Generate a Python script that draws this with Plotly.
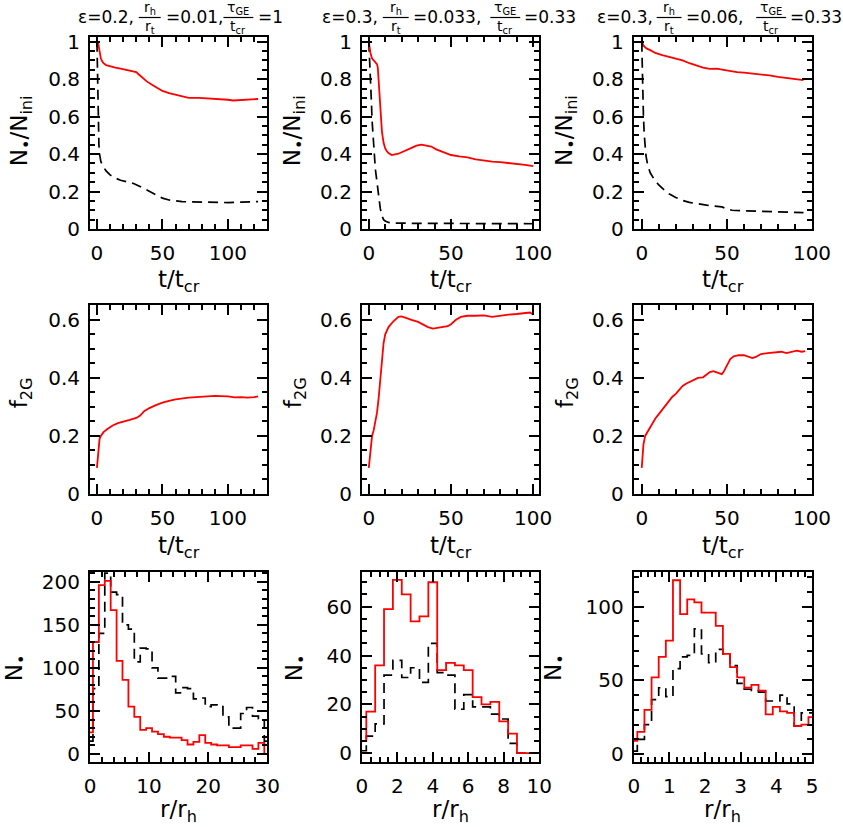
import plotly.graph_objects as go
from plotly.subplots import make_subplots

# ---------------- data ----------------
# row 1 : N*/N_ini vs t/t_cr   (red = solid, black = dashed)
t_red_1 = [0, 1, 2, 3, 4, 5, 7, 10, 14, 18, 23, 28, 30, 32, 35, 38, 42, 46, 50, 55, 60, 65, 70, 78, 86, 94, 100, 104, 108, 112, 116, 120, 123]
n_red_1 = [1.0, 0.99, 0.95, 0.91, 0.895, 0.885, 0.875, 0.868, 0.862, 0.856, 0.85, 0.843, 0.838, 0.825, 0.805, 0.788, 0.77, 0.755, 0.737, 0.725, 0.716, 0.708, 0.70, 0.70, 0.697, 0.695, 0.69, 0.686, 0.688, 0.69, 0.689, 0.692, 0.694]
t_blk_1 = [0, 0.3, 0.6, 1, 1.5, 2, 3, 4.8, 7, 10, 14, 18, 23, 28, 32, 36, 40, 45, 50, 55, 60, 65, 70, 80, 90, 100, 110, 123]
n_blk_1 = [1.0, 0.85, 0.7, 0.55, 0.45, 0.4, 0.36, 0.333, 0.31, 0.289, 0.272, 0.26, 0.25, 0.243, 0.23, 0.215, 0.2, 0.18, 0.165, 0.155, 0.149, 0.146, 0.145, 0.143, 0.142, 0.141, 0.143, 0.146]

t_red_2 = [0, 1, 2, 3, 4, 5, 5.5, 6, 6.5, 7, 7.5, 8, 9, 10, 11, 12, 14, 16, 18, 20, 23, 26, 29, 32, 35, 38, 41, 45, 50, 55, 60, 65, 70, 75, 80, 85, 90, 95, 100]
n_red_2 = [1.0, 0.94, 0.91, 0.9, 0.89, 0.88, 0.86, 0.8, 0.72, 0.65, 0.58, 0.52, 0.46, 0.43, 0.415, 0.405, 0.395, 0.397, 0.402, 0.41, 0.42, 0.433, 0.445, 0.45, 0.445, 0.44, 0.425, 0.41, 0.395, 0.388, 0.382, 0.372, 0.365, 0.36, 0.357, 0.353, 0.348, 0.342, 0.336]
t_blk_2 = [0, 0.5, 1, 1.5, 2, 3, 4, 5, 6, 7, 8, 9, 10, 12, 15, 20, 30, 40, 50, 60, 70, 80, 90, 100]
n_blk_2 = [1.0, 0.92, 0.82, 0.7, 0.58, 0.42, 0.32, 0.25, 0.17, 0.11, 0.07, 0.05, 0.042, 0.035, 0.032, 0.03, 0.03, 0.03, 0.03, 0.029, 0.029, 0.028, 0.028, 0.028]

t_red_3 = [0, 0.5, 1, 2, 3, 5, 8, 12, 16, 20, 24, 28, 32, 36, 40, 44, 48, 52, 56, 60, 65, 70, 75, 80, 85, 90, 95]
n_red_3 = [1.0, 0.99, 0.98, 0.97, 0.963, 0.955, 0.94, 0.928, 0.918, 0.91, 0.9, 0.885, 0.872, 0.862, 0.855, 0.856, 0.85, 0.842, 0.838, 0.835, 0.83, 0.828, 0.82, 0.812, 0.805, 0.8, 0.795]
t_blk_3 = [0, 0.3, 0.7, 1, 1.5, 2, 2.5, 3.5, 5, 7.5, 10, 13, 16, 20, 24, 28, 33, 38, 43, 47, 50, 53, 58, 62, 70, 78, 86, 95]
n_blk_3 = [1.0, 0.85, 0.7, 0.6, 0.5, 0.43, 0.39, 0.34, 0.3, 0.262, 0.235, 0.21, 0.188, 0.168, 0.152, 0.142, 0.133, 0.127, 0.122, 0.118, 0.108, 0.1, 0.098, 0.097, 0.093, 0.09, 0.088, 0.087]

# row 2 : f_2G vs t/t_cr
t_f_1 = [0, 1, 2, 3, 5, 8, 12, 16, 20, 25, 30, 33, 36, 40, 45, 50, 55, 60, 70, 80, 90, 100, 105, 110, 115, 120, 123]
f_2g_1 = [0.09, 0.14, 0.19, 0.2, 0.213, 0.224, 0.236, 0.244, 0.25, 0.255, 0.262, 0.27, 0.285, 0.296, 0.306, 0.315, 0.321, 0.326, 0.332, 0.336, 0.338, 0.336, 0.333, 0.334, 0.332, 0.334, 0.336]
t_f_2 = [0, 1, 2, 3, 4, 5, 6, 7, 8, 9, 10, 12, 15, 18, 20, 23, 26, 30, 33, 36, 39, 42, 45, 48, 50, 53, 56, 60, 65, 70, 75, 80, 85, 90, 95, 98, 100]
f_2g_2 = [0.09, 0.15, 0.2, 0.22, 0.25, 0.28, 0.33, 0.4, 0.47, 0.52, 0.55, 0.575, 0.595, 0.61, 0.612, 0.605, 0.6, 0.593, 0.585, 0.575, 0.57, 0.572, 0.575, 0.578, 0.585, 0.6, 0.61, 0.614, 0.614, 0.615, 0.61, 0.615, 0.618, 0.62, 0.622, 0.625, 0.618]
t_f_3 = [0, 1, 2, 4, 6, 8, 10, 12, 14, 16, 18, 20, 22, 24, 26, 28, 30, 33, 36, 38, 40, 42, 44, 46, 47, 48, 50, 52, 54, 57, 60, 62, 65, 67, 70, 74, 78, 82, 85, 88, 91, 94, 96]
f_2g_3 = [0.09, 0.17, 0.2, 0.22, 0.245, 0.26, 0.275, 0.29, 0.305, 0.32, 0.335, 0.345, 0.36, 0.372, 0.38, 0.385, 0.39, 0.4, 0.402, 0.41, 0.42, 0.423, 0.42, 0.415, 0.413, 0.42, 0.445, 0.465, 0.474, 0.478, 0.478, 0.474, 0.468, 0.472, 0.482, 0.485, 0.488, 0.49, 0.485, 0.49, 0.494, 0.49, 0.492]

# row 3 : N* histograms vs r/r_h (bin centres)
r_bins_1 = [0, 1, 2, 3, 4, 5, 6, 7, 8, 9, 10, 11, 12, 13, 14, 15, 16, 17, 18, 19, 20, 21, 22, 23, 24, 25, 26, 27, 28, 29, 30]
h_red_1 = [25, 130, 196, 201, 167, 108, 86, 55, 43, 28, 30, 26, 23, 20, 19, 19, 16, 11, 14, 22, 13, 11, 10, 10, 8, 8, 10, 10, 6, 13, 0]
h_blk_1 = [15, 76, 140, 210, 188, 185, 150, 145, 107, 123, 122, 100, 88, 88, 90, 71, 77, 76, 64, 65, 55, 57, 55, 43, 30, 30, 47, 54, 44, 41, 15]

r_bins_2 = [0, 0.5, 1, 1.5, 2, 2.5, 3, 3.5, 4, 4.5, 5, 5.5, 6, 6.5, 7, 7.5, 8, 8.5, 9, 9.5, 10]
h_red_2 = [5, 17, 36, 59, 71, 65, 54, 56, 70, 34, 37, 36, 34, 23, 20, 21, 13, 8, 0, 0, 0]
h_blk_2 = [1, 7, 12, 32, 38, 31, 35, 29, 45, 33, 32, 18, 24, 19, 19, 16, 14, 4, 0, 0, 0]

r_bins_3 = [0, 0.2, 0.4, 0.6, 0.8, 1.0, 1.2, 1.4, 1.6, 1.8, 2.0, 2.2, 2.4, 2.6, 2.8, 3.0, 3.2, 3.4, 3.6, 3.8, 4.0, 4.2, 4.4, 4.6, 4.8, 5.0]
h_red_3 = [9, 15, 30, 52, 66, 77, 118, 95, 105, 103, 96, 96, 87, 68, 59, 52, 45, 47, 43, 27, 32, 29, 28, 19, 20, 25]
h_blk_3 = [2, 10, 20, 37, 45, 39, 58, 66, 67, 85, 68, 62, 71, 68, 60, 48, 44, 43, 42, 36, 36, 40, 34, 19, 28, 28]

# column titles : (left text, frac1 top, frac1 bottom, middle text, frac2 top, frac2 bottom, right text)
col_titles = [
    ["\u03b5=0.2,", "r<sub>h</sub>", "r<sub>t</sub>", "=0.01,", "\u03c4<sub>GE</sub>", "t<sub>cr</sub>", "=1"],
    ["\u03b5=0.3,", "r<sub>h</sub>", "r<sub>t</sub>", "=0.033,", "\u03c4<sub>GE</sub>", "t<sub>cr</sub>", "=0.33"],
    ["\u03b5=0.3,", "r<sub>h</sub>", "r<sub>t</sub>", "=0.06,", "\u03c4<sub>GE</sub>", "t<sub>cr</sub>", "=0.33"],
]

# ---------------- layout geometry (pixels) ----------------
W, H = 843, 827
L, R, T, B = 90, 815, 37, 762
col_px = [(90, 268), (363, 541), (636, 815)]
row_px = [(37, 229), (305, 494), (572, 762)]


def fx(px):
    return (px - L) / (R - L)


def fy(py):
    return (B - py) / (B - T)


RED = "#ff0000"
FONT = "DejaVu Sans"
DASH = "10px,6px"

fig = make_subplots(rows=3, cols=3)


def add_pair(row, col, xb, yb, xr, yr, shape="linear"):
    fig.add_trace(go.Scatter(x=xb, y=yb, mode="lines", showlegend=False,
                             line=dict(color="black", width=1.7, dash=DASH, shape=shape)),
                  row=row, col=col)
    fig.add_trace(go.Scatter(x=xr, y=yr, mode="lines", showlegend=False,
                             line=dict(color=RED, width=1.8, shape=shape)),
                  row=row, col=col)


add_pair(1, 1, t_blk_1, n_blk_1, t_red_1, n_red_1)
add_pair(1, 2, t_blk_2, n_blk_2, t_red_2, n_red_2)
add_pair(1, 3, t_blk_3, n_blk_3, t_red_3, n_red_3)

for c, (tt, ff) in enumerate([(t_f_1, f_2g_1), (t_f_2, f_2g_2), (t_f_3, f_2g_3)], start=1):
    fig.add_trace(go.Scatter(x=tt, y=ff, mode="lines", showlegend=False,
                             line=dict(color=RED, width=1.8)), row=2, col=c)

add_pair(3, 1, r_bins_1, h_blk_1, r_bins_1, h_red_1, shape="hvh")
add_pair(3, 2, r_bins_2, h_blk_2, r_bins_2, h_red_2, shape="hvh")
add_pair(3, 3, r_bins_3, h_blk_3, r_bins_3, h_red_3, shape="hvh")

# ---------------- axes ----------------
axis_style = dict(showline=True, linewidth=2, linecolor="black", mirror="ticks",
                  ticks="inside", ticklen=10, tickwidth=1.5, tickcolor="black",
                  showgrid=False, zeroline=False, tick0=0,
                  tickfont=dict(family=FONT, size=20, color="black"))


def minor(d):
    return dict(ticks="inside", ticklen=5, tickwidth=1.5, tickcolor="black",
                showgrid=False, dtick=d, tick0=0)


x_ranges = [
    [[-5.3, 130], [-4.2, 103.6], [-4.7, 100]],
    [[-5.3, 130], [-4.2, 103.6], [-4.7, 100]],
    [[0, 30], [0, 10], [0, 5]],
]
x_ticks = [[(50, 10)] * 3, [(50, 10)] * 3, [(10, 2), (2, 0.5), (1, 0.2)]]
y_ranges = [
    [[0, 1.025]] * 3,
    [[0, 0.651]] * 3,
    [[-9.3, 211.3], [-3.6, 74.2], [-5.4, 123.6]],
]
y_ticks = [[(0.2, 0.05)] * 3, [(0.2, 0.05)] * 3, [(50, 10), (20, 5), (50, 10)]]

for r in range(3):
    for c in range(3):
        fig.update_xaxes(axis_style, domain=[fx(col_px[c][0]), fx(col_px[c][1])],
                         range=x_ranges[r][c], dtick=x_ticks[r][c][0],
                         minor=minor(x_ticks[r][c][1]), ticklabelstandoff=5,
                         row=r + 1, col=c + 1)
        fig.update_yaxes(axis_style, domain=[fy(row_px[r][1]), fy(row_px[r][0])],
                         range=y_ranges[r][c], dtick=y_ticks[r][c][0],
                         minor=minor(y_ticks[r][c][1]), ticklabelstandoff=4,
                         row=r + 1, col=c + 1)

# ---------------- axis titles ----------------
annots = []
title_font = dict(family=FONT, size=23, color="black")
col_centres = [(a + b) / 2 for a, b in col_px]
x_title_text = ["t/t<sub>cr</sub>", "t/t<sub>cr</sub>", "r/r<sub>h</sub>"]
x_title_y = [281, 547, 811]
for r in range(3):
    for c in range(3):
        annots.append(dict(text=x_title_text[r], x=fx(col_centres[c]), y=fy(x_title_y[r]),
                           xref="paper", yref="paper", xanchor="center", yanchor="middle",
                           showarrow=False, font=title_font))

y_title_text = ["N<sub>\u2022</sub>/N<sub>ini</sub>", "f<sub>2G</sub>", "N<sub>\u2022</sub>"]
y_title_x = [[21, 295, 568], [21, 296, 569], [16, 297, 557]]
y_title_y = [131, 393, 668]
for r in range(3):
    for c in range(3):
        annots.append(dict(text=y_title_text[r], x=fx(y_title_x[r][c]), y=fy(y_title_y[r]),
                           xref="paper", yref="paper", xanchor="center", yanchor="middle",
                           textangle=-90, showarrow=False, font=title_font))

# ---------------- column titles with stacked fractions ----------------
head_font = dict(family=FONT, size=17, color="black")
frac_font = dict(family=FONT, size=14, color="black")
# x pixel positions: left text right edge, frac1 (x0, x1), middle text left edge, frac2 (x0, x1), right text left edge
head_pos = [
    [136, (139, 161), 164, (224, 254), 257],
    [381, (384, 410), 412, (492, 522), 524],
    [657, (659, 684), 686, (759, 789), 791],
]
shapes = []
for c in range(3):
    txt = col_titles[c]
    pos = head_pos[c]
    annots.append(dict(text=txt[0], x=fx(pos[0]), y=fy(17), xref="paper", yref="paper",
                       xanchor="right", yanchor="middle", showarrow=False, font=head_font))
    annots.append(dict(text=txt[3], x=fx(pos[2]), y=fy(17), xref="paper", yref="paper",
                       xanchor="left", yanchor="middle", showarrow=False, font=head_font))
    annots.append(dict(text=txt[6], x=fx(pos[4]), y=fy(17), xref="paper", yref="paper",
                       xanchor="left", yanchor="middle", showarrow=False, font=head_font))
    for (x0, x1), top, bot in [(pos[1], txt[1], txt[2]), (pos[3], txt[4], txt[5])]:
        xm = (x0 + x1) / 2
        annots.append(dict(text=top, x=fx(xm), y=fy(8), xref="paper", yref="paper",
                           xanchor="center", yanchor="middle", showarrow=False, font=frac_font))
        annots.append(dict(text=bot, x=fx(xm), y=fy(27.5), xref="paper", yref="paper",
                           xanchor="center", yanchor="middle", showarrow=False, font=frac_font))
        shapes.append(dict(type="line", xref="paper", yref="paper", x0=fx(x0), x1=fx(x1),
                           y0=fy(17.5), y1=fy(17.5), line=dict(color="black", width=1.2)))

fig.update_layout(
    width=W, height=H,
    margin=dict(l=L, r=W - R, t=T, b=H - B),
    plot_bgcolor="white", paper_bgcolor="white",
    showlegend=False,
    annotations=annots,
    shapes=shapes,
)

# drop the default 8px page margin so the figure sits at the top-left corner
fig.write_html("out.html", config={"displayModeBar": False},
               post_script="document.body.style.margin='0px';")
